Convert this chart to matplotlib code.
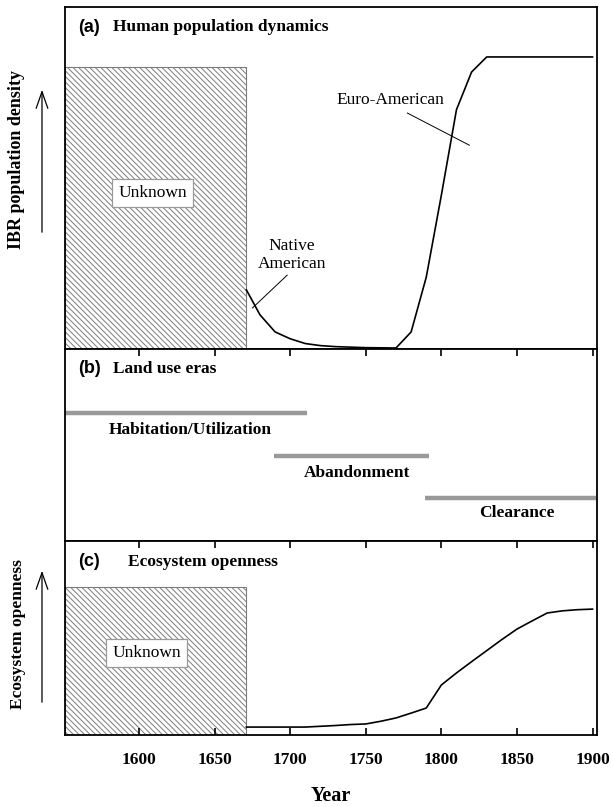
import matplotlib.pyplot as plt

plt.rcParams['font.family'] = ['Liberation Serif', 'DejaVu Serif']
plt.rcParams['hatch.linewidth'] = 0.7

# data
tick_years = [1600, 1650, 1700, 1750, 1800, 1850, 1900]
year_range = (1551, 1903)

unknown_start = 1551
unknown_end = 1671
unknown_top_a = 0.825
unknown_top_c = 0.763

native_years = [1671, 1680, 1690, 1700, 1710, 1720, 1730, 1750, 1770]
native_density = [0.173, 0.10, 0.05, 0.03, 0.016, 0.010, 0.007, 0.004, 0.003]

euro_years = [1770, 1780, 1790, 1800, 1810, 1820, 1830, 1900]
euro_density = [0.003, 0.05, 0.21, 0.45, 0.70, 0.81, 0.854, 0.854]

era_names = ['Habitation/Utilization', 'Abandonment', 'Clearance']
era_start = [1551, 1689, 1789]
era_end = [1711, 1792, 1902]

open_years = [1671, 1710, 1720, 1730, 1740, 1750, 1760, 1770, 1780, 1790,
              1800, 1810, 1820, 1830, 1840, 1850, 1860, 1870, 1880, 1890, 1900]
openness = [0.041, 0.041, 0.045, 0.049, 0.054, 0.057, 0.071, 0.088, 0.113, 0.139,
            0.258, 0.32, 0.378, 0.435, 0.492, 0.546, 0.588, 0.629, 0.640, 0.646, 0.649]

fig = plt.figure(figsize=(6.13, 8.07), dpi=100)
left, width = 0.106, 0.868
ax_a = fig.add_axes([left, 0.5675, width, 0.4238])
ax_b = fig.add_axes([left, 0.3296, width, 0.2379])
ax_c = fig.add_axes([left, 0.0892, width, 0.2404])

for ax in (ax_a, ax_b, ax_c):
    ax.set_xlim(year_range)
    ax.set_ylim(0, 1)
    ax.set_yticks([])
    ax.set_xticks(tick_years)
    for s in ax.spines.values():
        s.set_linewidth(1.3)

sans = 'Liberation Sans'
hatch_kw = dict(align='edge', facecolor='white', edgecolor='#7c7c7c',
                hatch='\\' * 6, linewidth=0.8)
box_kw = dict(boxstyle='square,pad=0.35', facecolor='white', edgecolor='#9a9a9a', linewidth=0.9)

# (a) population
ax_a.tick_params(bottom=False, labelbottom=False)
ax_a.bar(unknown_start, unknown_top_a, width=unknown_end - unknown_start, **hatch_kw)
ax_a.text(1609, 0.456, 'Unknown', ha='center', va='center', fontsize=12.5, bbox=box_kw)
ax_a.plot(native_years, native_density, color='black', lw=1.2)
ax_a.plot(euro_years, euro_density, color='black', lw=1.2)
ax_a.text(1701, 0.275, 'Native\nAmerican', ha='center', va='center', fontsize=12.5,
          linespacing=1.15)
ax_a.plot([1698, 1675], [0.216, 0.12], color='black', lw=0.7)
ax_a.text(1766, 0.728, 'Euro-American', ha='center', va='center', fontsize=12.5)
ax_a.plot([1777.5, 1818.5], [0.690, 0.596], color='black', lw=0.7)
ax_a.text(0.024, 0.9415, '(a)', transform=ax_a.transAxes, family=sans,
          fontweight='bold', fontsize=13, va='center')
ax_a.text(0.090, 0.9415, 'Human population dynamics', transform=ax_a.transAxes,
          fontweight='bold', fontsize=12.5, va='center')

# (b) land use eras
ax_b.tick_params(direction='in', top=True, bottom=False, labelbottom=False,
                 length=5, width=1.2)
bar_levels = [0.667, 0.443, 0.224]
label_levels = [0.578, 0.354, 0.146]
label_x = [1634, 1744, 1850]
for name, x0, x1, yb, yl, xl in zip(era_names, era_start, era_end,
                                    bar_levels, label_levels, label_x):
    ax_b.plot([x0, x1], [yb, yb], color='#999999', lw=3.2, solid_capstyle='butt')
    ax_b.text(xl, yl, name, ha='center', va='center', fontweight='bold', fontsize=12.5)
ax_b.text(0.024, 0.896, '(b)', transform=ax_b.transAxes, family=sans,
          fontweight='bold', fontsize=13, va='center')
ax_b.text(0.090, 0.896, 'Land use eras', transform=ax_b.transAxes,
          fontweight='bold', fontsize=12.5, va='center')

# (c) openness
ax_c.tick_params(direction='in', top=True, bottom=True, length=5, width=1.2,
                 labelsize=12.5, pad=12)
for lab in ax_c.get_xticklabels():
    lab.set_fontweight('bold')
ax_c.bar(unknown_start, unknown_top_c, width=unknown_end - unknown_start, **hatch_kw)
ax_c.text(1605, 0.423, 'Unknown', ha='center', va='center', fontsize=12.5, bbox=box_kw)
ax_c.plot(open_years, openness, color='black', lw=1.2)
ax_c.text(0.024, 0.892, '(c)', transform=ax_c.transAxes, family=sans,
          fontweight='bold', fontsize=13, va='center')
ax_c.text(0.118, 0.892, 'Ecosystem openness', transform=ax_c.transAxes,
          fontweight='bold', fontsize=12.5, va='center')
ax_c.set_xlabel('Year', fontweight='bold', fontsize=14.5, labelpad=13)

# y-axis labels with open arrows
fig.text(0.0277, 0.802, 'IBR population density', rotation=90, ha='center', va='center',
         fontweight='bold', fontsize=13)
fig.text(0.0294, 0.2144, 'Ecosystem openness', rotation=90, ha='center', va='center',
         fontweight='bold', fontsize=12.5)
arrow = dict(arrowstyle='->,head_length=1.0,head_width=0.35', color='black', lw=0.9)
fig.add_artist(plt.matplotlib.patches.FancyArrowPatch((0.0685, 0.7088), (0.0685, 0.8922),
                                                      transform=fig.transFigure,
                                                      mutation_scale=12, **arrow))
fig.add_artist(plt.matplotlib.patches.FancyArrowPatch((0.0685, 0.1264), (0.0685, 0.2962),
                                                      transform=fig.transFigure,
                                                      mutation_scale=12, **arrow))

fig.savefig('out.png', dpi=100)
